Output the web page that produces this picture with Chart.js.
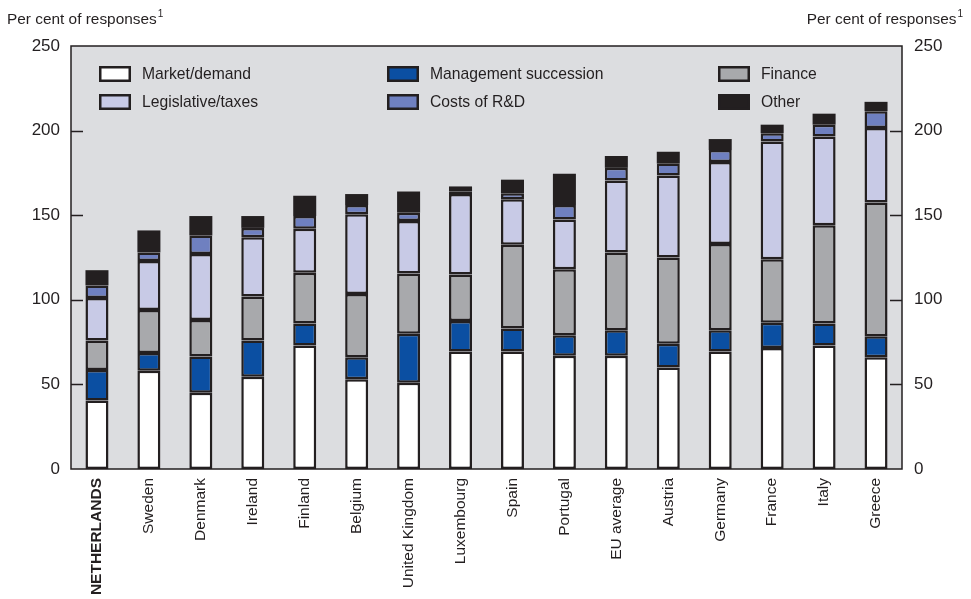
<!DOCTYPE html>
<html>
<head>
<meta charset="utf-8">
<script src="https://cdn.jsdelivr.net/npm/chart.js@4/dist/chart.umd.min.js"></script>
<style>
  html, body { margin: 0; padding: 0; background: #ffffff; }
</style>
</head>
<body>
<canvas id="c" width="971" height="599"></canvas>
<script>
// Obstacles reported by firms, per cent of responses (stacked, several answers allowed)
const categories = ['NETHERLANDS', 'Sweden', 'Denmark', 'Ireland', 'Finland', 'Belgium',
  'United Kingdom', 'Luxembourg', 'Spain', 'Portugal', 'EU average', 'Austria',
  'Germany', 'France', 'Italy', 'Greece'];

const marketDemand   = [40.5, 58, 45, 54.5, 73, 53, 51, 69.5, 69.5, 67, 67, 60, 69.5, 71.5, 73, 66];
const mgmtSuccession = [18, 10.5, 21.5, 21.5, 13, 13, 29, 18, 13.5, 12, 15, 14, 12.5, 15, 13, 12.5];
const finance        = [17.5, 25.5, 21.5, 26, 30, 37.5, 35.5, 27.5, 49.5, 39, 46, 51, 51, 37.5, 58, 79];
const legislative    = [25, 29, 39, 35, 26, 47, 31, 47.5, 27, 29.5, 42.5, 48.5, 48.5, 69.5, 52.5, 44];
const costsRD        = [7.5, 5, 11, 5.5, 7.5, 5.5, 5, 1.5, 3.5, 8.5, 7.5, 7, 7, 5, 7, 10];
const other          = [9, 13, 11.5, 7, 12, 6.5, 12.5, 3, 8, 18.5, 7, 7, 6.5, 5, 6.5, 5.5];

const yTicks = [0, 50, 100, 150, 200, 250];
const axisTitle = 'Per cent of responses';
const axisNote = '1';

const FONT = '"Liberation Sans", Arial, Helvetica, sans-serif';
const INK = '#231f20';
const PANEL = '#dcdde0';

function series(label, data, color, outline) {
  return {
    label, data,
    backgroundColor: color,
    borderColor: INK,
    borderWidth: outline ? 2.5 : 0,
    borderSkipped: false,
    barPercentage: 0.443,
    categoryPercentage: 1.0
  };
}

// Grey panel, frame, inward tick marks, legend and axis titles
const panelPlugin = {
  id: 'panelPlugin',
  beforeDatasetsDraw(chart) {
    const { ctx, chartArea: a } = chart;
    ctx.save();
    ctx.fillStyle = PANEL;
    ctx.fillRect(a.left, a.top, a.right - a.left, a.bottom - a.top);
    ctx.restore();
  },
  afterDatasetsDraw(chart) {
    const { ctx, chartArea: a } = chart;
    const y = chart.scales.y;
    ctx.save();
    ctx.strokeStyle = INK;
    ctx.lineWidth = 1.5;
    ctx.strokeRect(a.left, a.top, a.right - a.left, a.bottom - a.top);
    ctx.beginPath();
    yTicks.slice(1, -1).forEach(v => {
      const py = Math.round(y.getPixelForValue(v)) + 0.5;
      ctx.moveTo(a.left, py); ctx.lineTo(a.left + 12, py);
      ctx.moveTo(a.right - 12, py); ctx.lineTo(a.right, py);
    });
    ctx.stroke();

    // legend: three columns, two rows
    const cols = [99, 387, 718];
    const rows = [66, 94];
    ctx.font = '15.7px ' + FONT;
    ctx.textBaseline = 'middle';
    ctx.textAlign = 'left';
    chart.data.datasets.forEach((ds, i) => {
      const bx = cols[i % 3], by = rows[Math.floor(i / 3)];
      ctx.fillStyle = ds.backgroundColor;
      ctx.fillRect(bx, by, 32, 16);
      ctx.lineWidth = 2.5;
      ctx.strokeStyle = INK;
      ctx.strokeRect(bx + 1.25, by + 1.25, 29.5, 13.5);
      ctx.fillStyle = INK;
      ctx.fillText(ds.label, bx + 43, by + 9);
    });

    // axis titles with footnote mark
    ctx.textBaseline = 'alphabetic';
    ctx.font = '15.4px ' + FONT;
    const tw = ctx.measureText(axisTitle).width;
    ctx.font = '10px ' + FONT;
    const nw = ctx.measureText(axisNote).width;
    ctx.font = '15.4px ' + FONT;
    ctx.fillText(axisTitle, 7, 24);
    ctx.fillText(axisTitle, 963 - nw - tw - 1, 24);
    ctx.font = '10px ' + FONT;
    ctx.fillText(axisNote, 7 + tw + 1, 17);
    ctx.fillText(axisNote, 963 - nw, 17);
    ctx.restore();
  }
};

const yCommon = {
  min: 0, max: 250,
  grid: { display: false, drawTicks: false },
  border: { display: false },
};

new Chart(document.getElementById('c'), {
  type: 'bar',
  data: {
    labels: categories,
    datasets: [
      series('Market/demand', marketDemand, '#ffffff', true),
      series('Management succession', mgmtSuccession, '#0b4fa2', true),
      series('Finance', finance, '#a8a9ac', true),
      series('Legislative/taxes', legislative, '#c8cae6', true),
      series('Costs of R&D', costsRD, '#6f80c0', true),
      series('Other', other, INK, false)
    ]
  },
  options: {
    responsive: false,
    animation: false,
    devicePixelRatio: 1,
    layout: { padding: { top: 46, left: 0, right: 0, bottom: 0 } },
    plugins: { legend: { display: false }, tooltip: { enabled: false } },
    scales: {
      x: {
        stacked: true,
        offset: true,
        grid: { display: false, drawTicks: false },
        border: { display: false },
        ticks: {
          autoSkip: false,
          minRotation: 90, maxRotation: 90,
          padding: 9,
          color: INK,
          font: (c) => ({ family: FONT, size: 15.5, weight: c.index === 0 ? 'bold' : 'normal' })
        },
        afterFit(s) { s.height = 130; }
      },
      y: Object.assign({}, yCommon, {
        position: 'left',
        stacked: true,
        ticks: { stepSize: 50, padding: 11, color: INK, font: { family: FONT, size: 17 } },
        afterFit(s) { s.width = 71; }
      }),
      y2: Object.assign({}, yCommon, {
        position: 'right',
        display: true,
        ticks: { stepSize: 50, padding: 12, color: INK, font: { family: FONT, size: 17 } },
        afterFit(s) { s.width = 69; }
      })
    }
  },
  plugins: [panelPlugin]
});
</script>
</body>
</html>
